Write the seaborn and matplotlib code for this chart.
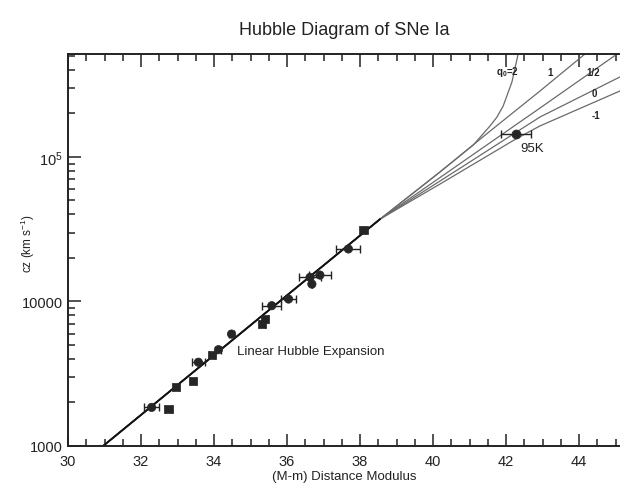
import numpy as np
import pandas as pd
import matplotlib
matplotlib.use("Agg")
import matplotlib.pyplot as plt
import seaborn as sns
from matplotlib.ticker import FixedLocator, MultipleLocator, LogLocator, NullFormatter

# ---- data ----
# supernova points: distance modulus, cz (km/s), marker kind, x-error
sn_mu = [32.29, 32.75, 32.96, 33.43, 33.57, 33.94, 34.12, 34.48, 35.31, 35.40,
         35.58, 36.04, 36.63, 36.68, 36.90, 37.68, 38.09]
sn_cz = [1850, 1800, 2550, 2830, 3800, 4270, 4640, 5950, 6990, 7570,
         9350, 10400, 14700, 13200, 15240, 23100, 31400]
sn_kind = ["circle", "square", "square", "square", "circle", "square", "circle", "circle", "square", "square",
           "circle", "circle", "circle", "circle", "circle", "circle", "square"]
sn_err = [0.20, 0.10, 0.08, 0.08, 0.18, 0.08, 0.06, 0.06, 0.08, 0.08,
          0.26, 0.20, 0.30, 0.0, 0.30, 0.33, 0.05]

k95_mu = [42.27]
k95_cz = [144000]
k95_err = [0.40]

# linear Hubble expansion line
lin_mu = [30.96, 38.55]
lin_cz = [1000, 37200]

# q0 model curves
shared_mu = [30.96, 38.55]
shared_cz = [1000, 37200]
q2_mu = [40.19, 41.10, 41.56, 41.75, 41.92, 42.16, 42.33]
q2_cz = [78800, 121000, 164000, 189000, 225400, 330400, 516000]
q1_mu = [40.19, 41.56, 42.93, 44.16]
q1_cz = [78800, 151000, 286400, 516000]
qh_mu = [40.19, 42.93, 45.04]
qh_cz = [72100, 218300, 516000]
q0_mu = [40.19, 42.93, 45.12]
q0_cz = [68200, 189200, 358100]
qm1_mu = [40.19, 42.27, 42.93, 45.12]
qm1_cz = [65000, 133400, 164100, 286400]

curve_labels = ["q$_0$=2", "1", "1/2", "0", "-1"]
label_mu = [42.05, 43.21, 44.38, 44.41, 44.47]
label_cz = [394000, 387000, 387000, 277000, 195000]

xticks = [30, 32, 34, 36, 38, 40, 42, 44]
yticks = [1000, 10000, 100000]
yticklabels = ["1000", "10000", "10$^5$"]

# ---- build tables ----
pts = pd.DataFrame({"mu": sn_mu, "cz": sn_cz, "kind": sn_kind, "err": sn_err})
curves = []
for name, m, c in [("2", q2_mu, q2_cz), ("1", q1_mu, q1_cz), ("1/2", qh_mu, qh_cz),
                   ("0", q0_mu, q0_cz), ("-1", qm1_mu, qm1_cz)]:
    curves.append(pd.DataFrame({"mu": shared_mu + m, "cz": shared_cz + c, "q0": name}))
curves = pd.concat(curves, ignore_index=True)
lin = pd.DataFrame({"mu": lin_mu, "cz": lin_cz})

# ---- figure ----
sns.set_theme(style="ticks")
plt.rcParams["font.family"] = ["Liberation Sans", "DejaVu Sans"]
plt.rcParams["mathtext.default"] = "regular"

fig = plt.figure(figsize=(6.2, 4.89), dpi=100)
ax = fig.add_axes([0.1097, 0.0859, 0.8903, 0.8016])
ax.set_yscale("log")

sns.lineplot(data=curves, x="mu", y="cz", units="q0", estimator=None, sort=False,
             color="#6a6a6a", lw=0.9, ax=ax, legend=False)
sns.lineplot(data=lin, x="mu", y="cz", color="#111111", lw=1.4, ax=ax, legend=False)

# error bars
ax.errorbar(pts["mu"], pts["cz"], xerr=pts["err"], fmt="none", ecolor="#222222",
            elinewidth=1.0, capsize=3, capthick=1.0, zorder=3)
ax.errorbar(k95_mu, k95_cz, xerr=k95_err, fmt="none", ecolor="#222222",
            elinewidth=1.0, capsize=3, capthick=1.0, zorder=3)

sns.scatterplot(data=pts, x="mu", y="cz", style="kind", markers={"circle": "o", "square": "s"},
                color="#262626", s=36, edgecolor="#262626", linewidth=0.5, ax=ax, legend=False, zorder=4)
sns.scatterplot(x=k95_mu, y=k95_cz, marker="o", color="#262626", s=42, edgecolor="#262626",
                ax=ax, legend=False, zorder=4)

for t, m, c in zip(curve_labels, label_mu, label_cz):
    ax.text(m, c, t, fontsize=7, color="#222222", ha="center", va="center", fontweight="bold")
ax.text(42.38, 115000, "95K", fontsize=9.5, color="#222222", ha="left", va="center")
ax.text(34.63, 4540, "Linear Hubble Expansion", fontsize=9.5, color="#222222", ha="left", va="center")

ax.set_xlim(30, 45.12)
ax.set_ylim(1000, 516000)

ax.xaxis.set_major_locator(FixedLocator(xticks))
ax.xaxis.set_minor_locator(MultipleLocator(0.5))
ax.yaxis.set_major_locator(FixedLocator(yticks))
ax.set_yticklabels(yticklabels)
ax.yaxis.set_minor_locator(LogLocator(base=10, subs=np.arange(2, 10)))
ax.yaxis.set_minor_formatter(NullFormatter())
ax.tick_params(which="both", direction="in", top=True, right=False, colors="#222222",
               labelsize=10.5, width=1.1)
ax.tick_params(which="major", length=9)
ax.tick_params(which="minor", length=5)
ax.tick_params(axis="x", pad=6)

for s in ["left", "bottom", "top"]:
    ax.spines[s].set_linewidth(1.4)
    ax.spines[s].set_color("#222222")
ax.spines["right"].set_visible(False)

ax.set_xlabel("(M-m) Distance Modulus", fontsize=9.5, color="#222222", labelpad=1)
ax.set_ylabel("cz (km s$^{-1}$)", fontsize=8.5, color="#222222")
ax.yaxis.set_label_coords(-0.056, 0.52)
fig.text(0.556, 0.938, "Hubble Diagram of SNe Ia", fontsize=13, ha="center", va="center", color="#222222")

fig.savefig("out.png", dpi=100, facecolor="white")
